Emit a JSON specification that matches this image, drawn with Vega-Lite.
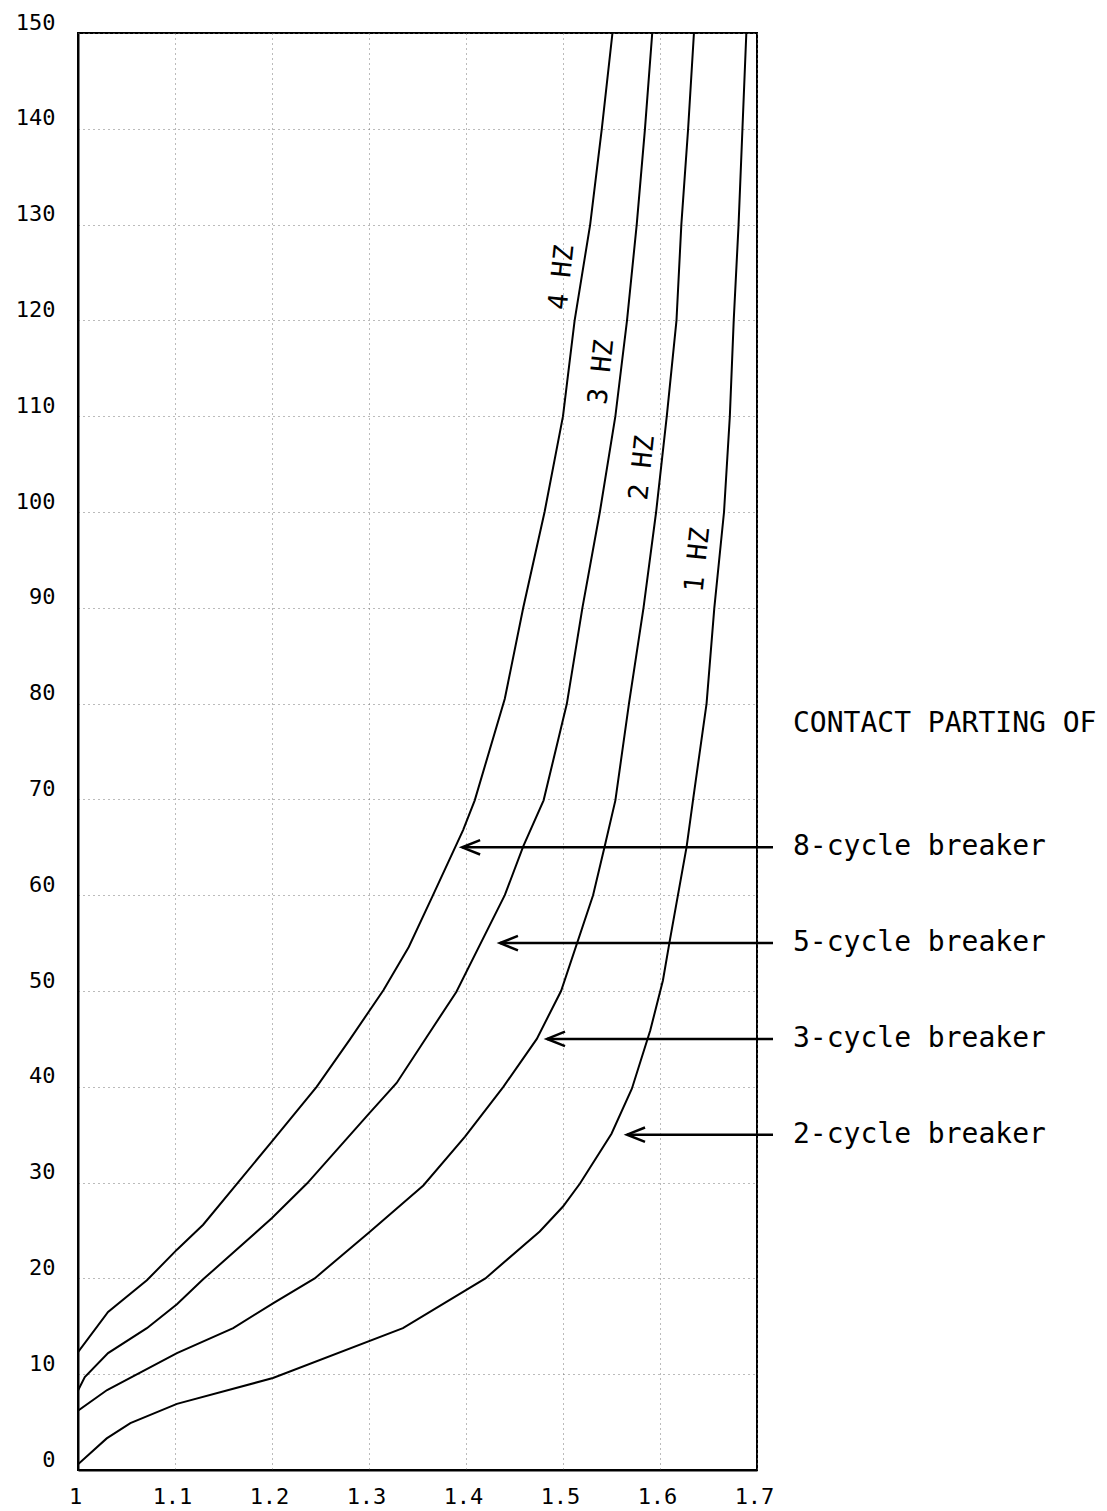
{
  "$schema": "https://vega.github.io/schema/vega-lite/v6.json",
  "width": 679,
  "height": 1437,
  "autosize": {"type": "none"},
  "padding": {"left": 78, "top": 33, "right": 350, "bottom": 41},
  "background": "white",
  "config": {
    "view": {"stroke": "black", "strokeWidth": 2},
    "font": "DejaVu Sans Mono",
    "axis": {
      "labelFont": "DejaVu Sans Mono",
      "labelFontSize": 22,
      "labelColor": "black",
      "labelFlush": false,
      "labelOverlap": false,
      "ticks": false,
      "domainColor": "black",
      "domainWidth": 2,
      "grid": true,
      "gridColor": "#777777",
      "gridDash": [1, 4],
      "gridWidth": 1,
      "title": null
    }
  },
  "datasets": {
    "curves": [
      {"f": "4 HZ", "x": 1.0, "y": 12.3},
      {"f": "4 HZ", "x": 1.031, "y": 16.5},
      {"f": "4 HZ", "x": 1.071, "y": 19.8},
      {"f": "4 HZ", "x": 1.102, "y": 23.0},
      {"f": "4 HZ", "x": 1.129, "y": 25.6},
      {"f": "4 HZ", "x": 1.2, "y": 34.3},
      {"f": "4 HZ", "x": 1.246, "y": 40.0},
      {"f": "4 HZ", "x": 1.28, "y": 44.9},
      {"f": "4 HZ", "x": 1.315, "y": 50.1},
      {"f": "4 HZ", "x": 1.341, "y": 54.6},
      {"f": "4 HZ", "x": 1.366, "y": 60.0},
      {"f": "4 HZ", "x": 1.397, "y": 66.8},
      {"f": "4 HZ", "x": 1.409, "y": 69.9},
      {"f": "4 HZ", "x": 1.44, "y": 80.5},
      {"f": "4 HZ", "x": 1.459, "y": 90.0},
      {"f": "4 HZ", "x": 1.481, "y": 100.0},
      {"f": "4 HZ", "x": 1.5, "y": 110.0},
      {"f": "4 HZ", "x": 1.512, "y": 120.0},
      {"f": "4 HZ", "x": 1.528, "y": 130.0},
      {"f": "4 HZ", "x": 1.54, "y": 140.0},
      {"f": "4 HZ", "x": 1.551, "y": 150.0},
      {"f": "3 HZ", "x": 1.0, "y": 8.3},
      {"f": "3 HZ", "x": 1.007, "y": 9.7},
      {"f": "3 HZ", "x": 1.031, "y": 12.2},
      {"f": "3 HZ", "x": 1.071, "y": 14.8},
      {"f": "3 HZ", "x": 1.102, "y": 17.3},
      {"f": "3 HZ", "x": 1.129, "y": 19.9},
      {"f": "3 HZ", "x": 1.2, "y": 26.3},
      {"f": "3 HZ", "x": 1.236, "y": 29.9},
      {"f": "3 HZ", "x": 1.3, "y": 37.2},
      {"f": "3 HZ", "x": 1.3285, "y": 40.4},
      {"f": "3 HZ", "x": 1.3595, "y": 45.2},
      {"f": "3 HZ", "x": 1.39, "y": 49.9},
      {"f": "3 HZ", "x": 1.44, "y": 60.0},
      {"f": "3 HZ", "x": 1.459, "y": 65.1},
      {"f": "3 HZ", "x": 1.48, "y": 69.9},
      {"f": "3 HZ", "x": 1.504, "y": 80.0},
      {"f": "3 HZ", "x": 1.52, "y": 90.0},
      {"f": "3 HZ", "x": 1.538, "y": 100.0},
      {"f": "3 HZ", "x": 1.554, "y": 110.0},
      {"f": "3 HZ", "x": 1.566, "y": 120.0},
      {"f": "3 HZ", "x": 1.576, "y": 130.0},
      {"f": "3 HZ", "x": 1.5845, "y": 140.0},
      {"f": "3 HZ", "x": 1.592, "y": 150.0},
      {"f": "2 HZ", "x": 1.0, "y": 6.2},
      {"f": "2 HZ", "x": 1.03, "y": 8.35},
      {"f": "2 HZ", "x": 1.102, "y": 12.2},
      {"f": "2 HZ", "x": 1.16, "y": 14.8},
      {"f": "2 HZ", "x": 1.201, "y": 17.4},
      {"f": "2 HZ", "x": 1.244, "y": 20.0},
      {"f": "2 HZ", "x": 1.3, "y": 24.8},
      {"f": "2 HZ", "x": 1.356, "y": 29.7},
      {"f": "2 HZ", "x": 1.399, "y": 34.8},
      {"f": "2 HZ", "x": 1.4385, "y": 40.0},
      {"f": "2 HZ", "x": 1.473, "y": 45.0},
      {"f": "2 HZ", "x": 1.498, "y": 50.0},
      {"f": "2 HZ", "x": 1.531, "y": 60.0},
      {"f": "2 HZ", "x": 1.543, "y": 65.1},
      {"f": "2 HZ", "x": 1.554, "y": 69.9},
      {"f": "2 HZ", "x": 1.568, "y": 80.0},
      {"f": "2 HZ", "x": 1.583, "y": 90.0},
      {"f": "2 HZ", "x": 1.596, "y": 100.0},
      {"f": "2 HZ", "x": 1.607, "y": 110.0},
      {"f": "2 HZ", "x": 1.617, "y": 120.0},
      {"f": "2 HZ", "x": 1.622, "y": 130.0},
      {"f": "2 HZ", "x": 1.629, "y": 140.0},
      {"f": "2 HZ", "x": 1.635, "y": 150.0},
      {"f": "1 HZ", "x": 1.0, "y": 0.6},
      {"f": "1 HZ", "x": 1.0296, "y": 3.3},
      {"f": "1 HZ", "x": 1.054, "y": 4.9},
      {"f": "1 HZ", "x": 1.102, "y": 6.9},
      {"f": "1 HZ", "x": 1.201, "y": 9.6},
      {"f": "1 HZ", "x": 1.335, "y": 14.8},
      {"f": "1 HZ", "x": 1.42, "y": 20.0},
      {"f": "1 HZ", "x": 1.476, "y": 24.9},
      {"f": "1 HZ", "x": 1.5, "y": 27.5},
      {"f": "1 HZ", "x": 1.5175, "y": 29.9},
      {"f": "1 HZ", "x": 1.55, "y": 35.1},
      {"f": "1 HZ", "x": 1.571, "y": 39.8},
      {"f": "1 HZ", "x": 1.59, "y": 45.9},
      {"f": "1 HZ", "x": 1.603, "y": 51.1},
      {"f": "1 HZ", "x": 1.61, "y": 55.2},
      {"f": "1 HZ", "x": 1.6275, "y": 65.1},
      {"f": "1 HZ", "x": 1.634, "y": 69.9},
      {"f": "1 HZ", "x": 1.648, "y": 80.0},
      {"f": "1 HZ", "x": 1.656, "y": 90.0},
      {"f": "1 HZ", "x": 1.666, "y": 100.0},
      {"f": "1 HZ", "x": 1.672, "y": 110.0},
      {"f": "1 HZ", "x": 1.676, "y": 120.0},
      {"f": "1 HZ", "x": 1.681, "y": 130.0},
      {"f": "1 HZ", "x": 1.685, "y": 140.0},
      {"f": "1 HZ", "x": 1.689, "y": 150.0}
    ],
    "curveLabels": [
      {"label": "4 HZ", "x": 1.499, "y": 124.5},
      {"label": "3 HZ", "x": 1.54, "y": 114.6},
      {"label": "2 HZ", "x": 1.582, "y": 104.6},
      {"label": "1 HZ", "x": 1.639, "y": 95.0}
    ],
    "arrows": [
      {"label": "8-cycle breaker", "x": 1.396, "x2": 1.7165, "y": 65},
      {"label": "5-cycle breaker", "x": 1.435, "x2": 1.7165, "y": 55},
      {"label": "3-cycle breaker", "x": 1.4835, "x2": 1.7165, "y": 45},
      {"label": "2-cycle breaker", "x": 1.566, "x2": 1.7165, "y": 35}
    ],
    "sideText": [
      {"label": "CONTACT PARTING OF", "x": 1.7371, "y": 77.9},
      {"label": "8-cycle breaker", "x": 1.7371, "y": 65},
      {"label": "5-cycle breaker", "x": 1.7371, "y": 55},
      {"label": "3-cycle breaker", "x": 1.7371, "y": 45},
      {"label": "2-cycle breaker", "x": 1.7371, "y": 35}
    ]
  },
  "encoding": {
    "x": {
      "field": "x",
      "type": "quantitative",
      "scale": {"domain": [1, 1.7], "nice": false, "zero": false},
      "axis": {
        "values": [1, 1.1, 1.2, 1.3, 1.4, 1.5, 1.6, 1.7],
        "format": ".1~f",
        "labelPadding": 16,
        "labelOffset": -3
      }
    },
    "y": {
      "field": "y",
      "type": "quantitative",
      "scale": {"domain": [0, 150], "nice": false, "zero": false},
      "axis": {
        "values": [0, 10, 20, 30, 40, 50, 60, 70, 80, 90, 100, 110, 120, 130, 140, 150],
        "format": "d",
        "labelPadding": 23,
        "labelBaseline": "middle",
        "labelOffset": -11
      }
    }
  },
  "layer": [
    {
      "data": {"name": "curves"},
      "mark": {"type": "line", "color": "black", "strokeWidth": 2, "clip": true},
      "encoding": {"detail": {"field": "f", "type": "nominal"}}
    },
    {
      "data": {"name": "curveLabels"},
      "mark": {"type": "text", "angle": -84, "align": "center", "baseline": "middle", "fontSize": 27, "font": "DejaVu Sans Mono", "color": "black"},
      "encoding": {"text": {"field": "label"}}
    },
    {
      "data": {"name": "arrows"},
      "mark": {"type": "rule", "color": "black", "strokeWidth": 2.5},
      "encoding": {"x2": {"field": "x2"}}
    },
    {
      "data": {"name": "arrows"},
      "mark": {"type": "point", "shape": "M2,-0.8L0,0L2,0.8", "size": 324, "filled": false, "color": "black", "strokeWidth": 2.5, "opacity": 1}
    },
    {
      "data": {"name": "sideText"},
      "mark": {"type": "text", "align": "left", "baseline": "middle", "fontSize": 28, "font": "DejaVu Sans Mono", "color": "black"},
      "encoding": {"text": {"field": "label"}}
    }
  ]
}
